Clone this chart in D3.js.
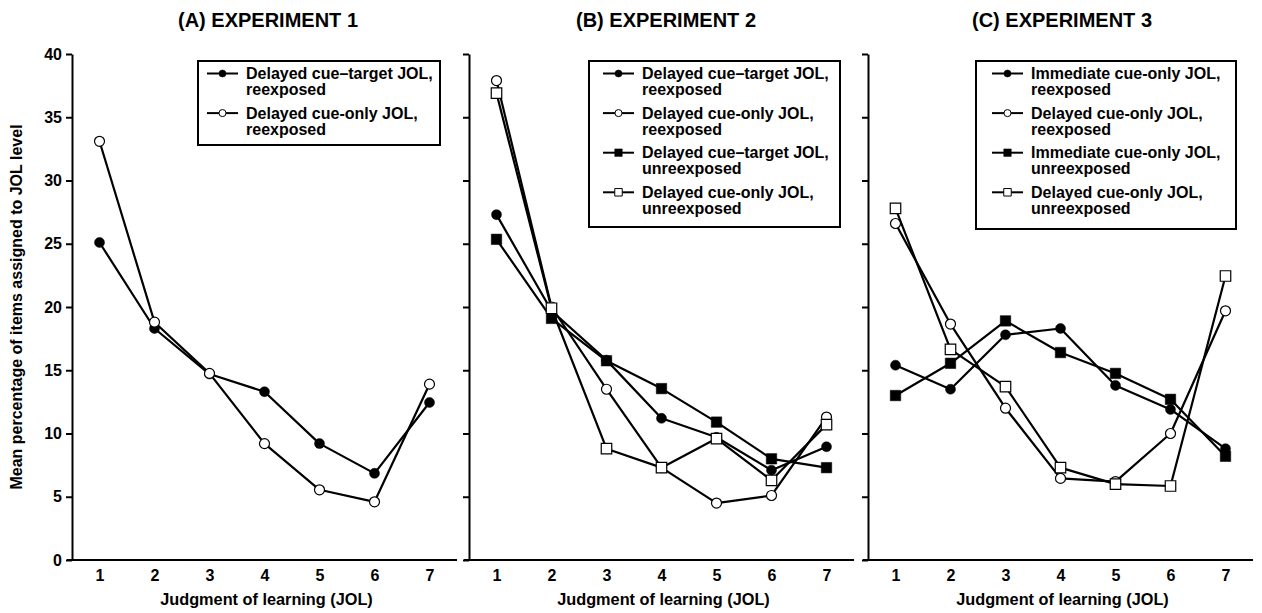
<!DOCTYPE html>
<html>
<head>
<meta charset="utf-8">
<script src="https://cdn.jsdelivr.net/npm/d3@7/dist/d3.min.js"></script>
<style>
  html, body { margin: 0; padding: 0; background: #fff; }
  svg { display: block; font-family: "Liberation Sans", Arial, Helvetica, sans-serif; font-weight: bold; }
</style>
</head>
<body>
<svg id="chart" width="1262" height="613"></svg>
<script>
// ---- data ----
const jolLevels = [1, 2, 3, 4, 5, 6, 7];
const yTicks = [0, 5, 10, 15, 20, 25, 30, 35, 40];
const panelTitles = ["(A) EXPERIMENT 1", "(B) EXPERIMENT 2", "(C) EXPERIMENT 3"];
const xAxisTitle = "Judgment of learning (JOL)";
const yAxisTitle = "Mean percentage of items assigned to JOL level";

// Experiment 1
const exp1DelayedCueTargetRe = [25.1, 18.3, 14.7, 13.3, 9.2, 6.85, 12.45];
const exp1DelayedCueOnlyRe   = [33.1, 18.8, 14.75, 9.2, 5.55, 4.6, 13.9];
// Experiment 2
const exp2DelayedCueTargetRe = [27.3, 19.7, 15.8, 11.2, 9.7, 7.1, 8.95];
const exp2DelayedCueOnlyRe   = [37.9, 20.0, 13.5, 7.3, 4.5, 5.1, 11.3];
const exp2DelayedCueTargetUn = [25.35, 19.1, 15.75, 13.55, 10.9, 8.0, 7.3];
const exp2DelayedCueOnlyUn   = [36.9, 19.9, 8.8, 7.3, 9.6, 6.3, 10.7];
// Experiment 3
const exp3ImmediateCueOnlyRe = [15.4, 13.5, 17.8, 18.3, 13.8, 11.9, 8.8];
const exp3DelayedCueOnlyRe   = [26.6, 18.65, 12.0, 6.45, 6.2, 10.0, 19.7];
const exp3ImmediateCueOnlyUn = [13.0, 15.55, 18.9, 16.4, 14.75, 12.7, 8.2];
const exp3DelayedCueOnlyUn   = [27.8, 16.65, 13.7, 7.3, 6.0, 5.85, 22.45];

const panels = [
  { series: [
      { label: ["Delayed cue\u2013target JOL,", "reexposed"], values: exp1DelayedCueTargetRe, shape: "circle", filled: true },
      { label: ["Delayed cue-only JOL,", "reexposed"], values: exp1DelayedCueOnlyRe, shape: "circle", filled: false }
  ]},
  { series: [
      { label: ["Delayed cue\u2013target JOL,", "reexposed"], values: exp2DelayedCueTargetRe, shape: "circle", filled: true },
      { label: ["Delayed cue-only JOL,", "reexposed"], values: exp2DelayedCueOnlyRe, shape: "circle", filled: false },
      { label: ["Delayed cue\u2013target JOL,", "unreexposed"], values: exp2DelayedCueTargetUn, shape: "square", filled: true },
      { label: ["Delayed cue-only JOL,", "unreexposed"], values: exp2DelayedCueOnlyUn, shape: "square", filled: false }
  ]},
  { series: [
      { label: ["Immediate cue-only JOL,", "reexposed"], values: exp3ImmediateCueOnlyRe, shape: "circle", filled: true },
      { label: ["Delayed cue-only JOL,", "reexposed"], values: exp3DelayedCueOnlyRe, shape: "circle", filled: false },
      { label: ["Immediate cue-only JOL,", "unreexposed"], values: exp3ImmediateCueOnlyUn, shape: "square", filled: true },
      { label: ["Delayed cue-only JOL,", "unreexposed"], values: exp3DelayedCueOnlyUn, shape: "square", filled: false }
  ]}
];

// ---- layout ----
const axisXs = [72, 469, 868];
const plotW = 385;
const titleCx = [268, 666, 1062];
const legendBoxes = [
  { x: 198, y: 61, w: 242, h: 84 },
  { x: 589, y: 61, w: 251, h: 166 },
  { x: 976, y: 61, w: 260, h: 168 }
];
const legendSymX = [207, 603, 992];

const svg = d3.select("#chart");
const y = d3.scaleLinear().domain([0, 40]).range([560, 54]);

function markerPath(shape, big) {
  const size = shape === "circle" ? (big ? Math.PI * 25 : Math.PI * 12.5) : (big ? 110 : 56);
  return d3.symbol().type(shape === "circle" ? d3.symbolCircle : d3.symbolSquare).size(size)();
}

panels.forEach((p, i) => {
  const ax = axisXs[i];
  const x = d3.scaleLinear().domain([0.5, 7.5]).range([ax, ax + plotW]);
  const g = svg.append("g");

  // title
  g.append("text").attr("x", titleCx[i]).attr("y", 27).attr("text-anchor", "middle")
    .attr("font-size", 20).text(panelTitles[i]);

  // y axis
  const yAxis = d3.axisLeft(y).tickValues(yTicks).tickSize(6).tickSizeOuter(0).tickPadding(4)
    .tickFormat(i === 0 ? d3.format("d") : () => "");
  const ya = g.append("g").attr("transform", `translate(${ax},0)`).call(yAxis);
  ya.select(".domain").attr("stroke", "#000").attr("stroke-width", 2);
  ya.selectAll(".tick line").attr("stroke", "#000").attr("stroke-width", 2);
  ya.selectAll(".tick text").attr("font-size", 16).attr("font-family", "Liberation Sans, Arial, sans-serif")
    .attr("font-weight", "bold").attr("fill", "#000");

  // x axis
  const xAxis = d3.axisBottom(x).tickValues(jolLevels).tickSize(0).tickSizeOuter(0).tickPadding(10)
    .tickFormat(d3.format("d"));
  const xa = g.append("g").attr("transform", `translate(0,${y(0)})`).call(xAxis);
  xa.select(".domain").attr("d", `M${ax - 5},0H${ax + plotW}`).attr("stroke", "#000").attr("stroke-width", 2);
  xa.selectAll(".tick text").attr("font-size", 16).attr("font-family", "Liberation Sans, Arial, sans-serif")
    .attr("font-weight", "bold").attr("fill", "#000");

  g.append("text").attr("x", ax + plotW / 2 + 2).attr("y", 605).attr("text-anchor", "middle")
    .attr("font-size", 16.3).text(xAxisTitle);

  // lines
  const line = d3.line().x((d, k) => x(jolLevels[k])).y(d => y(d));
  p.series.forEach(s => {
    g.append("path").datum(s.values).attr("d", line).attr("fill", "none")
      .attr("stroke", "#000").attr("stroke-width", 2.2).attr("stroke-linejoin", "round");
  });
  // markers
  p.series.forEach(s => {
    g.selectAll(null).data(s.values).enter().append("path")
      .attr("d", markerPath(s.shape, true))
      .attr("transform", (d, k) => `translate(${x(jolLevels[k])},${y(d)})`)
      .attr("fill", s.filled ? "#000" : "#fff")
      .attr("stroke", "#000").attr("stroke-width", s.filled ? 0.5 : 1.2);
  });

  // legend
  const lb = legendBoxes[i];
  const lg = g.append("g");
  lg.append("rect").attr("x", lb.x).attr("y", lb.y).attr("width", lb.w).attr("height", lb.h)
    .attr("fill", "#fff").attr("stroke", "#000").attr("stroke-width", 2);
  const sx = legendSymX[i];
  p.series.forEach((s, k) => {
    const base = 79 + k * 39.6;
    const cy = base - 5.5;
    lg.append("line").attr("x1", sx).attr("x2", sx + 31).attr("y1", cy).attr("y2", cy)
      .attr("stroke", "#000").attr("stroke-width", 2);
    lg.append("path").attr("d", markerPath(s.shape, false))
      .attr("transform", `translate(${sx + 15.5},${cy})`)
      .attr("fill", s.filled ? "#000" : "#fff").attr("stroke", "#000").attr("stroke-width", s.filled ? 0.5 : 1);
    const t = lg.append("text").attr("x", sx + 39).attr("y", base).attr("font-size", 16);
    t.append("tspan").attr("x", sx + 39).attr("y", base).text(s.label[0]);
    t.append("tspan").attr("x", sx + 39).attr("y", base + 16).text(s.label[1]);
  });
});

// y axis title
svg.append("text").attr("transform", "translate(21.5,307) rotate(-90)").attr("text-anchor", "middle")
  .attr("font-size", 16).text(yAxisTitle);
</script>
</body>
</html>
